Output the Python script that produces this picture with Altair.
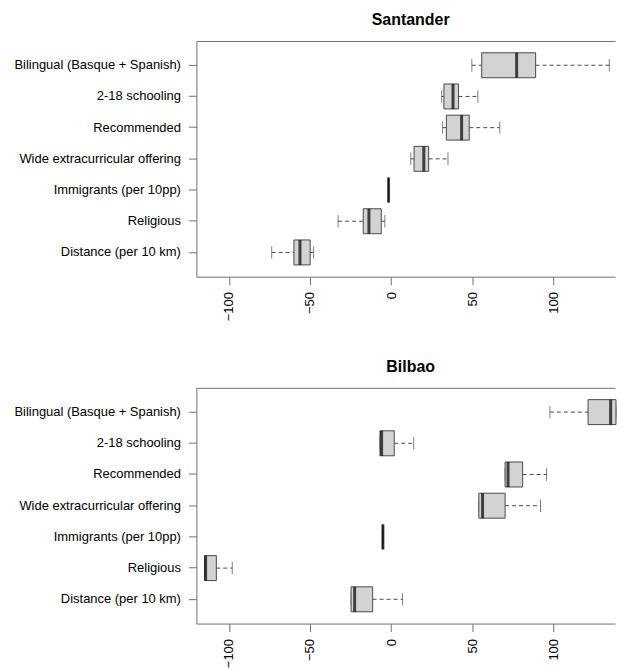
import altair as alt
import pandas as pd

categories = [
    "Bilingual (Basque + Spanish)",
    "2-18 schooling",
    "Recommended",
    "Wide extracurricular offering",
    "Immigrants (per 10pp)",
    "Religious",
    "Distance (per 10 km)",
]

# Santander
sant_lo = [49.7, 31.1, 31.7, 12.1, -1.6, -32.7, -73.6]
sant_q1 = [55.8, 32.5, 34.0, 14.1, -1.6, -17.2, -59.9]
sant_med = [77.3, 38.1, 43.4, 20.1, -1.6, -13.7, -56.2]
sant_q3 = [89.0, 41.5, 48.1, 23.1, -1.6, -6.1, -49.9]
sant_hi = [134.4, 53.4, 66.9, 35.0, -1.6, -3.9, -47.8]

# Bilbao
bil_lo = [97.8, -6.9, 70.2, 54.0, -5.1, -114.9, -24.7]
bil_q1 = [121.3, -6.9, 70.2, 54.0, -5.1, -114.9, -24.7]
bil_med = [135.2, -5.9, 72.0, 56.3, -5.1, -114.3, -22.5]
bil_q3 = [138.5, 1.9, 81.0, 70.2, -5.1, -107.7, -11.4]
bil_hi = [138.5, 13.9, 95.7, 92.0, -5.1, -97.9, 7.0]

x_ticks = [-100, -50, 0, 50, 100]
x_domain = [-120.0, 137.9]

FONT = "Liberation Sans"
FRAME = "#707070"
LINE = "#4a4a4a"
W = 420
H = 236.5


def panel(title, lo, q1, med, q3, hi):
    df = pd.DataFrame({"cat": categories, "lo": lo, "q1": q1, "med": med, "q3": q3, "hi": hi})
    xscale = alt.Scale(domain=x_domain, nice=False, zero=False)
    yscale = alt.Scale(domain=categories, paddingInner=0.2, paddingOuter=0.378)
    base = alt.Chart(df)
    y = alt.Y(
        "cat:N",
        scale=yscale,
        sort=categories,
        title=None,
        axis=alt.Axis(
            orient="left",
            labelFont=FONT,
            labelFontSize=13,
            labelColor="black",
            labelPadding=8,
            tickSize=8,
            tickColor=FRAME,
            domainColor=FRAME,
            grid=False,
            labelLimit=300,
        ),
    )
    xaxis = alt.Axis(
        orient="bottom",
        values=x_ticks,
        labelAngle=-90,
        labelFont=FONT,
        labelFontSize=13,
        labelColor="black",
        labelPadding=7,
        tickSize=8,
        tickColor=FRAME,
        domainColor=FRAME,
        grid=False,
        title=None,
    )
    topaxis = alt.Axis(
        orient="top",
        labels=False,
        ticks=False,
        domainColor=FRAME,
        grid=False,
        title=None,
    )
    w_lo = base.mark_rule(color=LINE, strokeDash=[4, 3], strokeWidth=1).encode(
        x=alt.X("lo:Q", scale=xscale, axis=xaxis), x2="q1:Q", y=y
    )
    w_hi = base.mark_rule(color=LINE, strokeDash=[4, 3], strokeWidth=1).encode(
        x=alt.X("q3:Q", scale=xscale, axis=topaxis), x2="hi:Q", y=y
    )
    cap_lo = base.mark_tick(color=LINE, thickness=1, size=12.5).encode(
        x=alt.X("lo:Q", scale=xscale, axis=None), y=y
    )
    cap_hi = base.mark_tick(color=LINE, thickness=1, size=12.5).encode(
        x=alt.X("hi:Q", scale=xscale, axis=None), y=y
    )
    box = base.mark_bar(fill="#d3d3d3", stroke=LINE, strokeWidth=1).encode(
        x=alt.X("q1:Q", scale=xscale, axis=None), x2="q3:Q", y=y
    )
    median = base.mark_tick(color="black", thickness=3, size=25).encode(
        x=alt.X("med:Q", scale=xscale, axis=None), y=y
    )
    return (
        alt.layer(w_lo, w_hi, cap_lo, cap_hi, box, median)
        .resolve_axis(x="independent")
        .properties(width=W, height=H, title=alt.TitleParams(title, dx=5))
    )


chart = (
    alt.vconcat(
        panel("Santander", sant_lo, sant_q1, sant_med, sant_q3, sant_hi),
        panel("Bilbao", bil_lo, bil_q1, bil_med, bil_q3, bil_hi),
        spacing=38,
    )
    .properties(padding={"left": 5, "top": 3, "right": 0, "bottom": 0})
    .configure_view(stroke=None)
    .configure_title(
        font=FONT, fontSize=16, fontWeight="bold", color="black", anchor="middle", frame="group", offset=13
    )
)

chart.save("out.html", embed_options={"renderer": "svg", "actions": False})
